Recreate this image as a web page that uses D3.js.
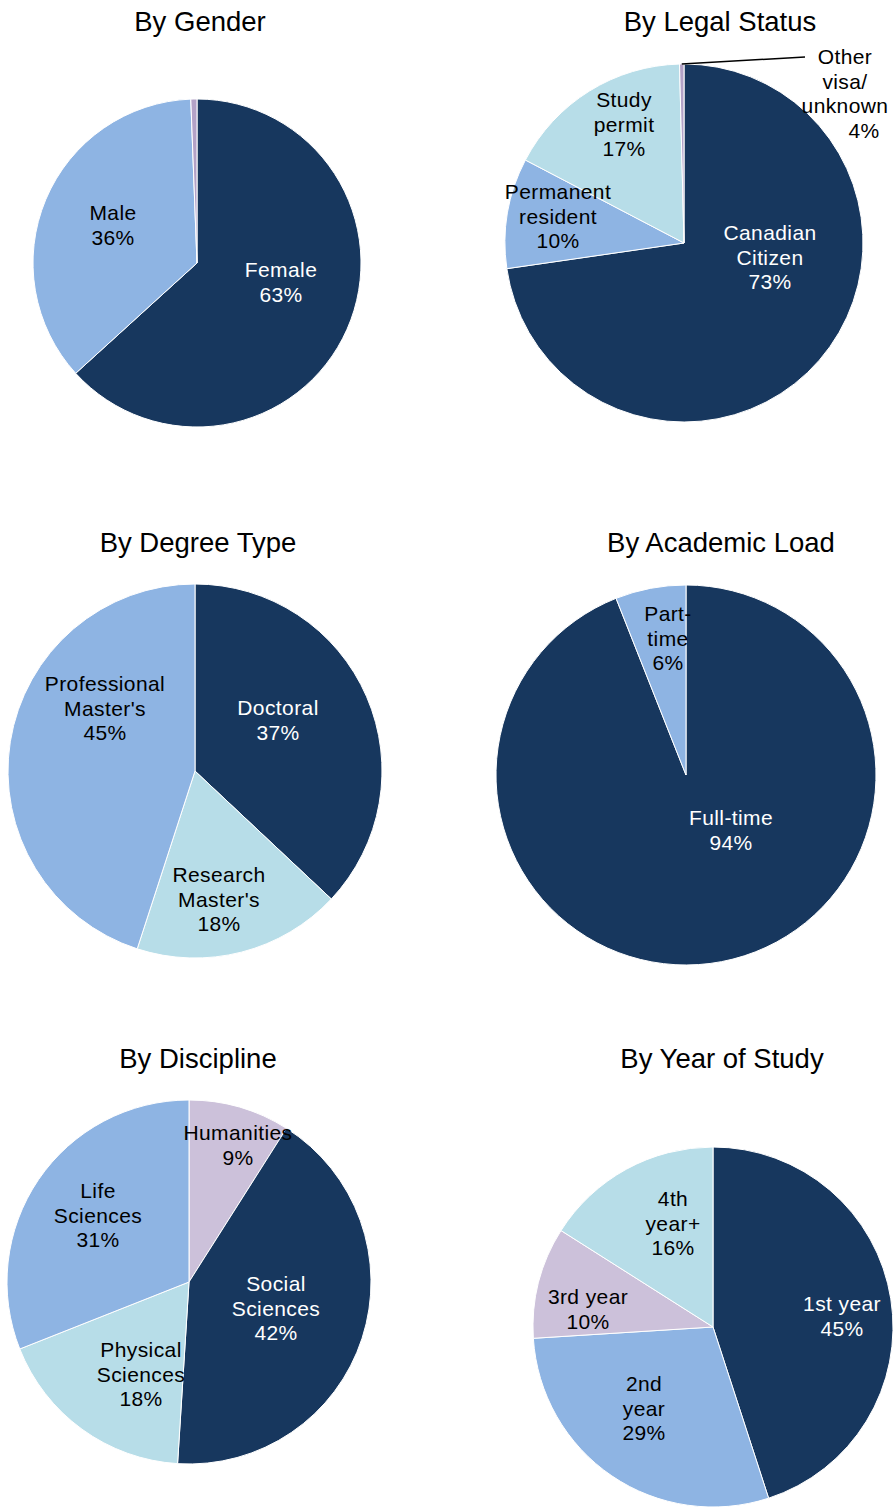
<!DOCTYPE html>
<html>
<head>
<meta charset="utf-8">
<script src="https://cdn.jsdelivr.net/npm/d3@7"></script>
<style>
  body { margin: 0; background: #fff; }
  text { font-family: "Liberation Sans", Arial, sans-serif; }
</style>
</head>
<body>
<svg id="chart" width="895" height="1508"></svg>
<script>
// data
var genderCats = ["Female", "Male", "Other"];
var genderVals = [63, 36, 0.6];
var genderLabels = [["Female", "63%"], ["Male", "36%"], null];

var legalCats = ["Canadian Citizen", "Permanent resident", "Study permit", "Other visa/unknown"];
var legalVals = [73, 10, 17, 0.4];
var legalLabels = [["Canadian", "Citizen", "73%"], ["Permanent", "resident", "10%"], ["Study", "permit", "17%"], ["Other", "visa/", "unknown", "4%"]];

var degreeCats = ["Doctoral", "Research Master's", "Professional Master's"];
var degreeVals = [37, 18, 45];
var degreeLabels = [["Doctoral", "37%"], ["Research", "Master's", "18%"], ["Professional", "Master's", "45%"]];

var loadCats = ["Full-time", "Part-time"];
var loadVals = [94, 6];
var loadLabels = [["Full-time", "94%"], ["Part-", "time", "6%"]];

var discCats = ["Humanities", "Social Sciences", "Physical Sciences", "Life Sciences"];
var discVals = [9, 42, 18, 31];
var discLabels = [["Humanities", "9%"], ["Social", "Sciences", "42%"], ["Physical", "Sciences", "18%"], ["Life", "Sciences", "31%"]];

var yearCats = ["1st year", "2nd year", "3rd year", "4th year+"];
var yearVals = [45, 29, 10, 16];
var yearLabels = [["1st year", "45%"], ["2nd", "year", "29%"], ["3rd year", "10%"], ["4th", "year+", "16%"]];

// colours
var navy = "#17375e", lightBlue = "#8eb4e3", pale = "#b7dde8", lilac = "#ccc1da", sliver = "#b3a2c7";

var svg = d3.select("#chart");
var lineH = 24.5;

// layout of each pie: centre, radius, title, label spots (first line centre)
var charts = [
  {title: "By Gender", tx: 200, ty: 31, cx: 197, cy: 263, r: 164,
   cats: genderCats, vals: genderVals, labels: genderLabels,
   colors: [navy, lightBlue, sliver],
   spots: [[281, 270], [113, 213], null]},
  {title: "By Legal Status", tx: 720, ty: 31, cx: 684, cy: 243, r: 179,
   cats: legalCats, vals: legalVals, labels: legalLabels,
   colors: [navy, lightBlue, pale, sliver],
   spots: [[770, 233], [558, 192], [624, 100], [845, 57]],
   leader: 3},
  {title: "By Degree Type", tx: 198, ty: 552, cx: 195, cy: 771, r: 187,
   cats: degreeCats, vals: degreeVals, labels: degreeLabels,
   colors: [navy, pale, lightBlue],
   spots: [[278, 708], [219, 875], [105, 684]]},
  {title: "By Academic Load", tx: 721, ty: 552, cx: 686, cy: 775, r: 190,
   cats: loadCats, vals: loadVals, labels: loadLabels,
   colors: [navy, lightBlue],
   spots: [[731, 818], [668, 614]]},
  {title: "By Discipline", tx: 198, ty: 1068, cx: 189, cy: 1282, r: 182,
   cats: discCats, vals: discVals, labels: discLabels,
   colors: [lilac, navy, pale, lightBlue],
   spots: [[238, 1133], [276, 1284], [141, 1350], [98, 1191]]},
  {title: "By Year of Study", tx: 722, ty: 1068, cx: 713, cy: 1327, r: 180,
   cats: yearCats, vals: yearVals, labels: yearLabels,
   colors: [navy, lightBlue, lilac, pale],
   spots: [[842, 1304], [644, 1384], [588, 1297], [673, 1199]]}
];

var pie = d3.pie().sort(null).value(function(d) { return d; });

charts.forEach(function(c) {
  svg.append("text")
    .attr("x", c.tx).attr("y", c.ty)
    .attr("text-anchor", "middle")
    .style("font-size", "27.5px")
    .style("fill", "#000")
    .text(c.title);

  var arc = d3.arc().innerRadius(0).outerRadius(c.r);
  var g = svg.append("g").attr("transform", "translate(" + c.cx + "," + c.cy + ")");
  var slices = pie(c.vals);

  g.selectAll("path")
    .data(slices)
    .enter().append("path")
    .attr("d", arc)
    .attr("fill", function(d, i) { return c.colors[i]; })
    .attr("stroke", "#fff")
    .attr("stroke-width", 1);

  // leader line for the tiny slice
  if (c.leader !== undefined) {
    var s = slices[c.leader];
    var a = (s.startAngle + s.endAngle) / 2;
    var x0 = c.cx + Math.sin(a) * c.r, y0 = c.cy - Math.cos(a) * c.r;
    svg.append("path")
      .attr("d", "M" + x0 + "," + y0 + "L" + (c.spots[c.leader][0] - 40) + "," + c.spots[c.leader][1])
      .attr("stroke", "#000").attr("stroke-width", 1.5).attr("fill", "none");
  }

  c.labels.forEach(function(lines, i) {
    if (!lines) return;
    var sp = c.spots[i];
    var t = svg.append("text")
      .attr("text-anchor", "middle")
      .style("font-size", "21px")
      .style("letter-spacing", "0.4px")
      .style("fill", (c.colors[i] === navy && c.leader !== i) ? "#fff" : "#000");
    lines.forEach(function(line, j) {
      var dx = 0;
      if (c.leader === i && j === lines.length - 1) dx = 19;
      t.append("tspan")
        .attr("x", sp[0] + dx)
        .attr("y", sp[1] + j * lineH)
        .attr("dy", "0.35em")
        .text(line);
    });
  });
});
</script>
</body>
</html>
